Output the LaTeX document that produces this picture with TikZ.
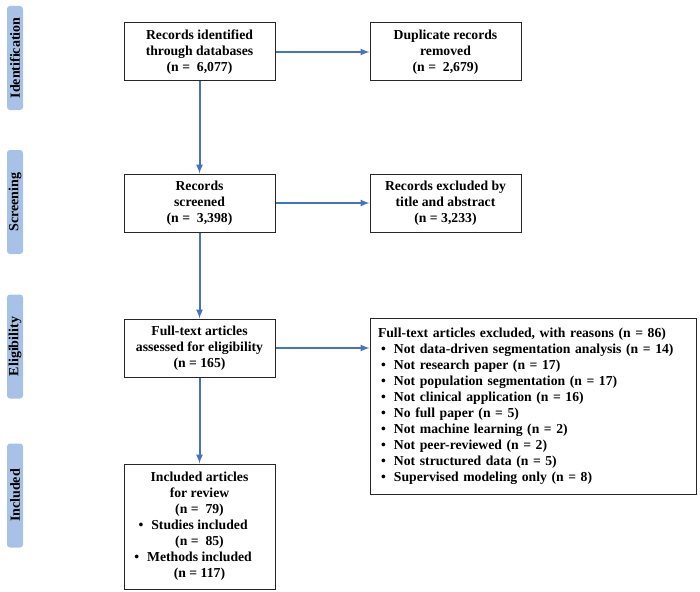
\documentclass[tikz,border=0pt]{standalone}
\usepackage{fontspec}
\setmainfont{Liberation Serif}
\usetikzlibrary{positioning,calc,shapes,arrows}
\definecolor{myblue}{RGB}{68,114,196}
\definecolor{mylight}{RGB}{167,194,230}
\tikzstyle{box}=[draw=black!85,line width=1pt,minimum width=151pt,minimum height=58pt,align=center,inner sep=2pt,font=\fontsize{13.7}{16}\selectfont\bfseries]
\tikzstyle{stage}=[fill=mylight,rounded corners=3pt,rotate=90,minimum width=104pt,minimum height=16pt,inner sep=0pt,font=\fontsize{14}{14}\selectfont\bfseries]
\tikzstyle{arr}=[-latex,draw=myblue,fill=myblue,line width=2pt]
\newcommand{\xbul}{\hspace*{3pt}\makebox[13pt][l]{\textbullet}}

\begin{document}
\begin{tikzpicture}[x=1pt,y=1pt]
      \useasboundingbox (0,0) rectangle (700,-591);

      % stages on the left
      \foreach \name/\lab/\ypos in {sident/Identification/58,sscreen/Screening/202,selig/Eligibility/346.5,sincl/Included/495.5}
        \node (\name) [stage] at (15,-\ypos) {\lab};

      \node (ident) at (199.5,-52) [box] {Records identified\\through databases\\(n =\ \ 6,077)};
      \node (dupl) [box, right=94pt of ident] {Duplicate records\\removed\\(n =\ \ 2,679)};
      \node (screen) [box, below=92pt of ident] {Records\\screened\\(n =\ \ 3,398)};
      \node (excl) [box, right=94pt of screen] {Records excluded by\\title and abstract\\(n = 3,233)};
      \node (elig) [box, below=86pt of screen] {Full-text articles\\assessed for eligibility\\(n = 165)};
      \node (reasons) [box, align=left, anchor=north west, minimum height=176pt, text width=310pt, inner xsep=8pt]
        at ($(elig.north east)+(94,1)$)
        {Full-text articles excluded, with reasons (n = 86)\\
         \xbul Not data-driven segmentation analysis (n = 14)\\
         \xbul Not research paper (n = 17)\\
         \xbul Not population segmentation (n = 17)\\
         \xbul Not clinical application (n = 16)\\
         \xbul No full paper (n = 5)\\
         \xbul Not machine learning (n = 2)\\
         \xbul Not peer-reviewed (n = 2)\\
         \xbul Not structured data (n = 5)\\
         \xbul Supervised modeling only (n = 8)};
      \node (incl) [box, below=86pt of elig, minimum height=125pt]
        {Included articles\\for review\\(n =\ \ 79)\\
         \llap{\textbullet\hspace{8pt}}Studies included\\(n =\ \ 85)\\
         \llap{\textbullet\hspace{8pt}}Methods included\\(n = 117)};

      \draw[arr] (ident.east) -- (dupl.west);
      \draw[arr] (ident.south) -- (screen.north);
      \draw[arr] (screen.east) -- (excl.west);
      \draw[arr] (screen.south) -- (elig.north);
      \draw[arr] (elig.east) -- (elig.east -| reasons.west);
      \draw[arr] (elig.south) -- (incl.north);
\end{tikzpicture}
\end{document}
